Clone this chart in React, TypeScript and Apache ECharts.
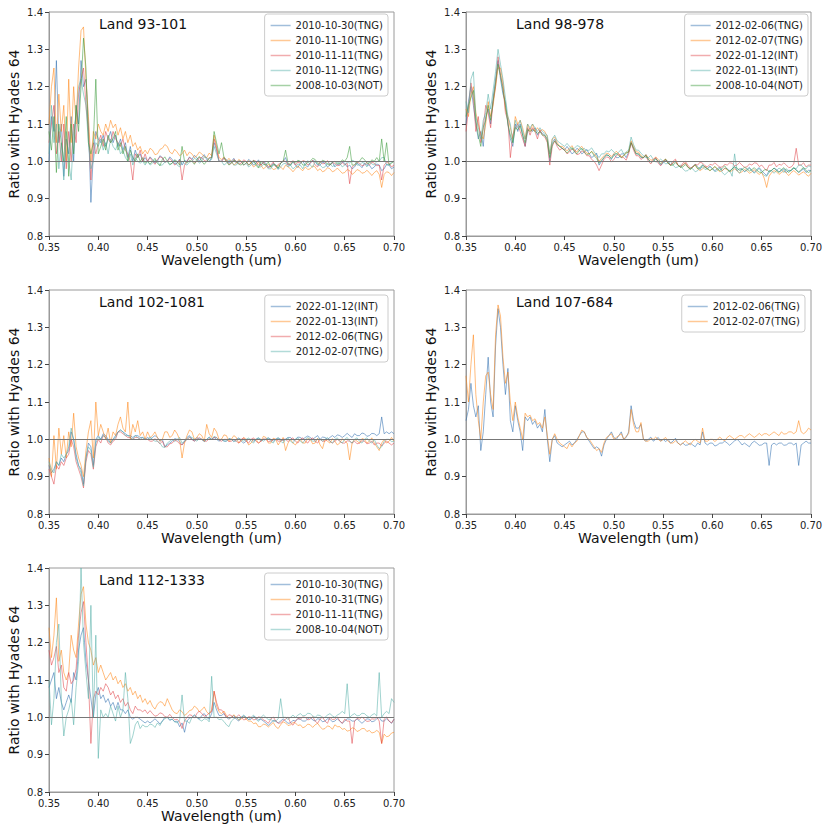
import React, { useEffect, useRef } from "react";
import * as echarts from "echarts";

const FONT = "DejaVu Sans";

// wavelength grid (um)
const WL = [
  0.35, 0.3525, 0.355, 0.3575, 0.36, 0.3625, 0.365, 0.3675, 0.37, 0.3725,
  0.375, 0.3775, 0.38, 0.3825, 0.385, 0.3875, 0.39, 0.3925, 0.395, 0.3975,
  0.40, 0.4025, 0.405, 0.4075, 0.41, 0.4125, 0.415, 0.4175, 0.42, 0.4225,
  0.425, 0.4275, 0.43, 0.4325, 0.435, 0.4375, 0.44, 0.4425, 0.445, 0.4475,
  0.45, 0.4525, 0.455, 0.4575, 0.46, 0.4625, 0.465, 0.4675, 0.47, 0.4725,
  0.475, 0.4775, 0.48, 0.4825, 0.485, 0.4875, 0.49, 0.4925, 0.495, 0.4975,
  0.50, 0.5025, 0.505, 0.5075, 0.51, 0.5125, 0.515, 0.5175, 0.52, 0.5225,
  0.525, 0.5275, 0.53, 0.5325, 0.535, 0.5375, 0.54, 0.5425, 0.545, 0.5475,
  0.55, 0.5525, 0.555, 0.5575, 0.56, 0.5625, 0.565, 0.5675, 0.57, 0.5725,
  0.575, 0.5775, 0.58, 0.5825, 0.585, 0.5875, 0.59, 0.5925, 0.595, 0.5975,
  0.60, 0.6025, 0.605, 0.6075, 0.61, 0.6125, 0.615, 0.6175, 0.62, 0.6225,
  0.625, 0.6275, 0.63, 0.6325, 0.635, 0.6375, 0.64, 0.6425, 0.645, 0.6475,
  0.65, 0.6525, 0.655, 0.6575, 0.66, 0.6625, 0.665, 0.6675, 0.67, 0.6725,
  0.675, 0.6775, 0.68, 0.6825, 0.685, 0.6875, 0.69, 0.6925, 0.695, 0.6975,
  0.70,
];

const X_TICKS = [0.35, 0.4, 0.45, 0.5, 0.55, 0.6, 0.65, 0.7];
const Y_TICKS = [0.8, 0.9, 1.0, 1.1, 1.2, 1.3, 1.4];
const REF_RATIO = 1.0;

const TITLES = ["Land 93-101", "Land 98-978", "Land 102-1081", "Land 107-684", "Land 112-1333"];

// ---------- Land 93-101 ----------
const P1_NAMES = ["2010-10-30(TNG)", "2010-11-10(TNG)", "2010-11-11(TNG)", "2010-11-12(TNG)", "2008-10-03(NOT)"];
const P1_20101030 = [
  1.00, 1.12, 1.08, 1.27, 1.05, 1.10, 0.96, 1.06, 1.02, 1.12,
  1.00, 1.15, 1.10, 1.27, 1.20, 1.22, 1.10, 0.89, 1.02, 1.08,
  1.06, 1.05, 1.07, 1.04, 1.06, 1.08, 1.05, 1.07, 1.04, 1.06,
  1.03, 1.05, 1.01, 1.04, 1.00, 1.03, 1.01, 1.02, 1.00, 1.01,
  1.00, 1.012, 1.005, 0.995, 1.00, 1.015, 1.01, 0.998, 1.00, 1.012,
  1.005, 0.993, 0.995, 1.006, 0.99, 1.002, 1.00, 1.012, 1.005, 1.016,
  1.01, 1.00, 1.01, 1.018, 1.005, 0.998, 1.01, 1.05, 1.03, 1.00,
  1.00, 1.01, 1.005, 0.995, 1.00, 1.008, 0.995, 1.002, 1.00, 0.99,
  0.995, 1.005, 1.00, 0.99, 0.995, 1.004, 0.99, 0.998, 0.995, 0.985,
  0.985, 0.995, 0.99, 0.98, 0.995, 1.00, 1.01, 0.99, 0.99, 0.998,
  0.99, 0.983, 0.995, 1.00, 0.99, 0.985, 0.995, 1.002, 1.00, 0.99,
  0.99, 0.998, 0.995, 0.985, 0.99, 0.998, 0.985, 0.992, 0.99, 0.998,
  0.995, 0.985, 0.99, 0.98, 0.985, 0.995, 0.99, 0.983, 0.995, 0.99,
  0.99, 0.98, 0.985, 0.993, 0.99, 0.975, 0.98, 0.992, 0.99, 0.98,
  0.985,
];
const P1_20101110 = [
  1.10, 1.20, 1.25, 1.05, 1.18, 1.08, 1.15, 1.00, 1.22, 1.05,
  1.20, 1.10, 1.25, 1.35, 1.36, 1.22, 1.12, 1.00, 1.08, 1.06,
  1.10, 1.08, 1.07, 1.10, 1.08, 1.11, 1.09, 1.10, 1.07, 1.09,
  1.06, 1.08, 1.05, 1.07, 1.04, 1.05, 1.03, 1.04, 1.02, 1.03,
  1.02, 1.035, 1.03, 1.018, 1.02, 1.032, 1.035, 1.045, 1.04, 1.025,
  1.02, 1.032, 1.025, 1.015, 1.02, 1.03, 1.015, 1.025, 1.02, 1.01,
  1.015, 1.025, 1.02, 1.012, 1.01, 1.022, 1.015, 1.07, 1.04, 1.01,
  1.005, 1.012, 1.00, 1.008, 1.00, 0.99, 0.995, 1.005, 1.00, 0.99,
  0.995, 1.002, 0.995, 0.985, 0.99, 0.998, 0.99, 0.98, 0.985, 0.992,
  0.985, 0.978, 0.98, 0.99, 0.985, 0.978, 0.99, 0.985, 0.98, 0.972,
  0.98, 0.988, 0.98, 0.975, 0.985, 0.978, 0.98, 0.988, 0.985, 0.975,
  0.98, 0.972, 0.975, 0.983, 0.98, 0.972, 0.975, 0.982, 0.975, 0.968,
  0.97, 0.978, 0.975, 0.965, 0.97, 0.978, 0.975, 0.968, 0.97, 0.976,
  0.97, 0.962, 0.97, 0.975, 0.965, 0.93, 0.965, 0.972, 0.97, 0.962,
  0.97,
];
const P1_20101111 = [
  1.05, 1.10, 1.15, 1.02, 1.08, 1.00, 1.10, 0.98, 1.08, 1.00,
  1.10, 1.05, 1.18, 1.22, 1.25, 1.15, 1.08, 0.95, 1.05, 1.02,
  1.05, 1.07, 1.04, 1.08, 1.06, 1.05, 1.08, 1.06, 1.05, 1.04,
  1.06, 1.03, 1.02, 1.00, 0.95, 1.02, 1.01, 1.03, 1.00, 1.02,
  1.00, 1.01, 1.00, 0.992, 1.005, 1.012, 1.01, 0.998, 1.00, 1.008,
  1.00, 0.99, 0.995, 1.004, 0.95, 0.99, 1.00, 1.01, 1.005, 0.995,
  1.00, 1.01, 1.01, 1.002, 1.00, 1.01, 1.01, 1.06, 1.035, 1.00,
  1.00, 1.008, 1.00, 0.992, 0.995, 1.005, 1.00, 0.993, 0.995, 1.004,
  1.00, 0.99, 0.995, 1.003, 1.00, 0.99, 0.99, 0.998, 0.99, 0.982,
  0.99, 0.998, 0.985, 0.992, 0.995, 1.002, 1.00, 0.99, 0.995, 1.002,
  0.99, 0.998, 0.995, 1.002, 1.00, 0.99, 0.995, 1.003, 0.99, 0.985,
  1.00, 0.993, 0.995, 1.002, 0.99, 0.996, 0.995, 0.988, 0.99, 0.997,
  0.99, 0.995, 0.94, 0.985, 0.99, 0.998, 0.995, 0.988, 0.99, 0.997,
  0.99, 0.998, 0.995, 0.988, 0.99, 0.95, 0.99, 0.997, 0.995, 0.985,
  0.99,
];
const P1_20101112 = [
  1.02, 1.15, 1.05, 1.10, 0.98, 1.05, 0.95, 1.08, 1.00, 0.95,
  1.08, 1.12, 1.20, 1.22, 1.18, 1.15, 1.05, 0.98, 1.00, 1.05,
  1.04, 1.06, 1.03, 1.05, 1.02, 1.06, 1.04, 1.03, 1.05, 1.02,
  1.03, 1.01, 1.00, 1.02, 0.99, 1.01, 1.00, 0.995, 1.00, 0.99,
  1.00, 0.99, 0.995, 1.003, 1.00, 0.99, 0.99, 0.998, 1.00, 0.99,
  0.995, 1.004, 0.99, 0.985, 1.00, 0.993, 0.99, 0.998, 1.00, 1.008,
  1.005, 0.995, 1.00, 1.012, 1.01, 1.002, 1.005, 1.04, 1.02, 1.00,
  1.00, 0.99, 0.995, 1.003, 1.00, 0.99, 0.99, 0.998, 1.00, 0.99,
  0.995, 0.985, 0.99, 0.998, 0.995, 0.985, 0.985, 0.992, 0.99, 0.98,
  0.98, 0.99, 0.99, 0.978, 0.985, 0.993, 0.995, 0.985, 0.99, 0.98,
  0.985, 0.993, 0.99, 0.98, 0.995, 1.002, 0.99, 0.984, 1.00, 0.992,
  0.99, 0.983, 0.985, 0.995, 0.995, 0.986, 0.99, 0.998, 0.995, 0.985,
  0.99, 0.998, 0.995, 1.003, 1.00, 0.99, 0.99, 0.997, 0.995, 0.985,
  1.00, 0.993, 0.99, 1.00, 1.00, 1.01, 1.01, 0.99, 0.99, 0.998,
  1.00,
];
const P1_20081003 = [
  1.08, 1.03, 1.12, 0.97, 1.10, 1.05, 1.00, 1.12, 0.96, 1.10,
  1.02, 1.15, 1.08, 1.20, 1.33, 1.25, 1.05, 1.02, 1.05, 1.22,
  1.02, 1.04, 1.06, 1.03, 1.07, 1.05, 1.06, 1.08, 1.03, 1.05,
  1.02, 1.04, 1.00, 1.03, 1.01, 1.00, 1.02, 1.00, 1.01, 0.995,
  1.00, 0.993, 1.00, 1.008, 0.995, 0.988, 1.005, 1.012, 1.00, 0.992,
  0.995, 1.004, 1.00, 0.99, 1.04, 1.00, 0.995, 1.003, 1.00, 0.992,
  1.005, 1.013, 1.00, 0.992, 1.00, 1.008, 1.01, 1.08, 1.05, 1.02,
  1.05, 1.01, 1.00, 0.99, 0.995, 1.003, 1.00, 0.992, 0.99, 0.998,
  1.00, 0.99, 0.995, 1.003, 0.99, 0.982, 1.00, 0.993, 0.99, 0.998,
  0.985, 0.992, 0.99, 0.982, 0.995, 1.00, 1.03, 0.995, 0.99, 1.00,
  0.995, 1.003, 1.00, 0.99, 0.99, 0.998, 1.00, 1.008, 1.005, 0.995,
  0.995, 1.003, 1.00, 0.992, 0.99, 0.998, 1.00, 0.993, 0.995, 1.004,
  1.00, 1.01, 1.04, 0.99, 0.99, 0.998, 1.00, 1.01, 1.005, 0.995,
  0.995, 1.004, 1.00, 1.01, 1.00, 1.06, 1.00, 1.05, 0.99, 0.995,
  1.00,
];

// ---------- Land 98-978 ----------
const P2_NAMES = ["2012-02-06(TNG)", "2012-02-07(TNG)", "2022-01-12(INT)", "2022-01-13(INT)", "2008-10-04(NOT)"];
const P2_20120206 = [
  1.10, 1.16, 1.20, 1.15, 1.10, 1.06, 1.08, 1.04, 1.12, 1.14,
  1.10, 1.17, 1.22, 1.27, 1.22, 1.18, 1.16, 1.10, 1.06, 1.04,
  1.10, 1.08, 1.10, 1.07, 1.04, 1.08, 1.09, 1.08, 1.09, 1.07,
  1.08, 1.075, 1.07, 1.06, 1.00, 1.05, 1.06, 1.045, 1.04, 1.035,
  1.03, 1.04, 1.03, 1.02, 1.025, 1.035, 1.03, 1.02, 1.025, 1.032,
  1.02, 1.01, 1.015, 1.022, 0.99, 1.00, 1.01, 1.018, 1.015, 1.005,
  1.02, 1.01, 1.01, 1.02, 1.02, 1.01, 1.025, 1.05, 1.035, 1.02,
  1.02, 1.01, 1.01, 1.018, 1.005, 0.998, 1.00, 1.008, 1.00, 0.99,
  0.995, 1.003, 1.00, 0.99, 0.995, 1.00, 0.99, 0.984, 0.99, 0.995,
  0.985, 0.98, 0.985, 0.992, 0.985, 0.978, 0.99, 0.985, 0.98, 0.987,
  0.98, 0.975, 0.98, 0.985, 0.975, 0.982, 0.98, 0.974, 0.98, 0.986,
  0.975, 0.98, 0.98, 0.972, 0.978, 0.984, 0.975, 0.97, 0.978, 0.983,
  0.975, 0.968, 0.962, 0.975, 0.975, 0.982, 0.978, 0.972, 0.975, 0.98,
  0.97, 0.976, 0.975, 0.982, 0.978, 0.97, 0.975, 0.98, 0.97, 0.976,
  0.975,
];
const P2_20120207 = [
  1.14, 1.12, 1.18, 1.20, 1.13, 1.10, 1.07, 1.06, 1.10, 1.16,
  1.12, 1.15, 1.20, 1.25, 1.25, 1.21, 1.14, 1.12, 1.09, 1.06,
  1.12, 1.10, 1.11, 1.09, 1.06, 1.10, 1.08, 1.10, 1.08, 1.09,
  1.08, 1.085, 1.08, 1.065, 1.02, 1.06, 1.065, 1.05, 1.04, 1.04,
  1.035, 1.028, 1.035, 1.042, 1.03, 1.025, 1.035, 1.04, 1.03, 1.022,
  1.02, 1.027, 1.02, 1.012, 1.00, 1.008, 1.015, 1.022, 1.02, 1.013,
  1.02, 1.027, 1.02, 1.012, 1.015, 1.024, 1.025, 1.055, 1.04, 1.025,
  1.025, 1.015, 1.01, 1.018, 1.01, 1.003, 1.005, 1.012, 1.005, 0.998,
  1.00, 1.006, 0.995, 0.99, 0.995, 1.002, 0.99, 0.985, 0.99, 0.996,
  0.985, 0.979, 0.985, 0.99, 0.98, 0.975, 0.98, 0.986, 0.98, 0.975,
  0.98, 0.986, 0.978, 0.972, 0.975, 0.981, 0.978, 0.972, 0.975, 0.98,
  0.975, 0.969, 0.972, 0.978, 0.975, 0.968, 0.972, 0.978, 0.97, 0.965,
  0.97, 0.955, 0.93, 0.96, 0.97, 0.975, 0.972, 0.965, 0.97, 0.975,
  0.968, 0.962, 0.97, 0.975, 0.97, 0.963, 0.968, 0.972, 0.965, 0.96,
  0.968,
];
const P2_20220112 = [
  1.08, 1.14, 1.21, 1.17, 1.08, 1.12, 1.05, 1.09, 1.15, 1.13,
  1.09, 1.16, 1.20, 1.28, 1.23, 1.20, 1.13, 1.11, 1.01, 1.07,
  1.09, 1.10, 1.08, 1.06, 1.04, 1.09, 1.07, 1.09, 1.08, 1.06,
  1.085, 1.07, 1.065, 1.05, 0.99, 1.04, 1.055, 1.04, 1.03, 1.035,
  1.03, 1.02, 1.025, 1.033, 1.03, 1.018, 1.02, 1.028, 1.025, 1.015,
  1.015, 1.005, 1.00, 0.99, 0.975, 0.99, 1.005, 1.012, 1.01, 0.998,
  1.005, 1.015, 1.02, 1.01, 1.01, 1.003, 1.02, 1.05, 1.03, 1.015,
  1.015, 1.005, 1.01, 1.015, 1.00, 0.993, 1.005, 1.01, 0.995, 0.988,
  1.00, 1.005, 0.995, 0.99, 1.00, 1.006, 0.99, 0.985, 0.995, 1.00,
  0.99, 0.982, 0.985, 0.992, 0.99, 0.998, 0.995, 0.988, 0.985, 0.992,
  0.99, 0.996, 0.99, 0.984, 0.985, 0.992, 0.99, 0.996, 0.995, 0.988,
  0.99, 0.997, 0.99, 0.984, 0.985, 0.993, 0.99, 0.996, 0.995, 0.986,
  0.99, 0.982, 0.975, 0.99, 0.99, 0.997, 0.985, 0.992, 0.99, 0.996,
  0.99, 0.983, 0.985, 0.993, 1.035, 0.99, 0.99, 0.996, 0.985, 0.99,
  0.99,
];
const P2_20220113 = [
  1.16, 1.13, 1.22, 1.24, 1.12, 1.09, 1.06, 1.11, 1.13, 1.18,
  1.14, 1.19, 1.24, 1.30, 1.26, 1.22, 1.17, 1.12, 1.10, 1.05,
  1.11, 1.09, 1.11, 1.08, 1.06, 1.10, 1.09, 1.10, 1.09, 1.08,
  1.09, 1.08, 1.075, 1.07, 1.02, 1.06, 1.07, 1.055, 1.05, 1.045,
  1.04, 1.048, 1.04, 1.032, 1.035, 1.042, 1.04, 1.03, 1.035, 1.028,
  1.03, 1.036, 1.025, 1.018, 1.01, 1.02, 1.02, 1.028, 1.025, 1.032,
  1.025, 1.018, 1.025, 1.032, 1.02, 1.025, 1.03, 1.065, 1.045, 1.03,
  1.03, 1.022, 1.015, 1.01, 1.01, 1.016, 1.005, 0.998, 1.00, 1.006,
  1.00, 0.993, 0.995, 1.00, 0.99, 0.983, 0.985, 0.99, 0.98, 0.974,
  0.975, 0.982, 0.98, 0.972, 0.975, 0.982, 0.985, 0.978, 0.98, 0.986,
  0.98, 0.972, 0.975, 0.982, 0.97, 0.964, 0.97, 0.976, 0.96, 1.02,
  0.975, 0.968, 0.98, 0.973, 0.975, 0.982, 0.975, 0.968, 0.975, 0.981,
  0.97, 0.962, 0.96, 0.97, 0.975, 0.968, 0.975, 0.982, 0.978, 0.97,
  0.98, 0.974, 0.975, 0.983, 0.98, 0.99, 0.99, 0.982, 0.98, 0.988,
  0.985,
];
const P2_20081004 = [
  1.12, 1.15, 1.17, 1.19, 1.11, 1.07, 1.04, 1.09, 1.11, 1.15,
  1.11, 1.16, 1.21, 1.26, 1.23, 1.19, 1.15, 1.10, 1.07, 1.05,
  1.09, 1.085, 1.095, 1.07, 1.05, 1.085, 1.08, 1.085, 1.08, 1.075,
  1.08, 1.07, 1.07, 1.055, 1.01, 1.045, 1.055, 1.045, 1.04, 1.035,
  1.03, 1.022, 1.03, 1.037, 1.025, 1.02, 1.03, 1.035, 1.025, 1.018,
  1.02, 1.026, 1.015, 1.008, 0.995, 1.003, 1.01, 1.017, 1.015, 1.008,
  1.015, 1.022, 1.015, 1.01, 1.015, 1.022, 1.025, 1.05, 1.035, 1.02,
  1.02, 1.012, 1.01, 1.016, 1.005, 0.998, 1.00, 1.007, 1.00, 0.993,
  1.00, 1.006, 0.995, 0.989, 0.99, 0.996, 0.99, 0.984, 0.985, 0.991,
  0.985, 0.978, 0.985, 0.991, 0.98, 0.984, 0.99, 0.984, 0.98, 0.975,
  0.98, 0.986, 0.98, 0.975, 0.982, 0.988, 0.978, 0.973, 0.98, 0.985,
  0.982, 0.976, 0.978, 0.984, 0.98, 0.974, 0.978, 0.983, 0.976, 0.971,
  0.97, 0.977, 0.978, 0.972, 0.976, 0.982, 0.975, 0.97, 0.978, 0.983,
  0.976, 0.97, 0.978, 0.983, 0.976, 0.971, 0.978, 0.983, 0.975, 0.97,
  0.975,
];

// ---------- Land 102-1081 ----------
const P3_NAMES = ["2022-01-12(INT)", "2022-01-13(INT)", "2012-02-06(TNG)", "2012-02-07(TNG)"];
const P3_20220112 = [
  0.93, 0.91, 0.92, 0.94, 0.93, 0.95, 0.94, 0.96, 0.97, 1.02,
  1.00, 0.96, 0.93, 0.92, 0.88, 0.95, 0.99, 0.98, 0.93, 1.00,
  1.01, 1.00, 1.015, 1.01, 1.00, 0.99, 1.00, 1.01, 1.02, 1.025,
  1.02, 1.015, 1.01, 1.01, 1.005, 1.01, 1.01, 1.005, 1.005, 1.00,
  1.005, 1.00, 1.005, 1.01, 1.005, 0.995, 1.00, 0.98, 0.985, 0.99,
  0.995, 1.002, 1.00, 0.993, 0.985, 0.995, 1.005, 1.01, 1.00, 0.995,
  1.005, 1.00, 1.00, 0.995, 1.00, 1.006, 1.00, 1.005, 1.00, 0.995,
  1.00, 0.995, 0.995, 1.002, 1.00, 0.994, 1.00, 1.004, 0.995, 0.99,
  0.995, 1.00, 1.00, 0.995, 1.00, 1.004, 0.995, 1.00, 1.00, 1.004,
  1.00, 0.995, 1.00, 1.004, 1.00, 0.996, 1.00, 1.005, 1.005, 0.998,
  1.00, 1.006, 1.005, 1.00, 1.005, 1.009, 1.005, 1.00, 1.005, 1.01,
  1.00, 1.006, 1.005, 1.00, 1.005, 1.01, 1.005, 1.012, 1.01, 1.005,
  1.01, 1.016, 1.01, 1.005, 1.015, 1.01, 1.01, 1.017, 1.015, 1.008,
  1.01, 1.016, 1.015, 1.01, 1.015, 1.06, 1.015, 1.02, 1.015, 1.02,
  1.015,
];
const P3_20220113 = [
  0.95, 0.90, 1.01, 0.92, 1.03, 0.96, 1.01, 0.95, 1.02, 0.98,
  1.07, 0.98, 0.95, 0.93, 0.90, 0.97, 1.02, 1.05, 0.95, 1.10,
  1.01, 1.04, 1.02, 1.00, 1.03, 0.99, 1.02, 1.01, 1.04, 1.06,
  1.03, 1.02, 1.10, 1.00, 1.04, 1.02, 1.05, 1.01, 1.02, 1.00,
  1.02, 1.005, 1.01, 1.02, 1.005, 0.995, 1.00, 1.02, 1.02, 1.005,
  1.01, 1.025, 1.015, 1.00, 0.95, 0.99, 1.01, 1.025, 1.02, 1.00,
  1.005, 1.015, 1.01, 0.995, 1.04, 1.015, 1.005, 1.03, 1.02, 1.00,
  1.00, 1.012, 1.01, 0.995, 1.00, 1.01, 1.005, 0.99, 0.995, 1.005,
  1.00, 0.985, 0.99, 1.00, 1.00, 0.99, 0.995, 1.008, 1.005, 0.99,
  0.99, 1.003, 1.00, 0.985, 0.995, 1.005, 0.97, 0.99, 1.00, 0.99,
  0.985, 0.995, 1.00, 0.99, 0.99, 1.002, 1.00, 0.988, 0.99, 1.003,
  0.985, 0.975, 1.00, 0.995, 0.99, 1.002, 0.995, 0.985, 0.99, 1.002,
  0.995, 0.99, 0.945, 0.99, 1.00, 0.995, 0.99, 1.002, 1.00, 0.99,
  0.995, 1.004, 0.99, 0.98, 0.97, 0.99, 1.00, 0.99, 0.995, 1.005,
  0.995,
];
const P3_20120206 = [
  0.92, 0.90, 0.88, 0.93, 0.92, 0.94, 0.93, 0.95, 0.96, 1.00,
  0.98, 0.94, 0.92, 0.90, 0.87, 0.94, 0.97, 0.96, 0.92, 0.98,
  1.00, 0.99, 1.01, 1.005, 0.99, 0.985, 0.995, 1.00, 1.02, 1.02,
  1.015, 1.01, 1.005, 1.005, 1.00, 1.005, 1.005, 1.00, 1.00, 1.00,
  1.00, 0.995, 0.995, 1.002, 0.995, 0.988, 0.995, 0.98, 0.98, 0.988,
  0.99, 0.998, 0.995, 0.988, 0.985, 0.993, 1.00, 1.005, 1.00, 0.995,
  1.00, 1.005, 1.00, 0.995, 0.995, 1.002, 1.00, 1.005, 1.005, 0.998,
  0.995, 1.00, 1.00, 0.994, 0.995, 1.00, 0.995, 0.99, 1.00, 1.004,
  0.995, 0.99, 1.00, 1.004, 0.995, 0.99, 0.995, 1.001, 1.00, 0.994,
  0.995, 1.00, 1.00, 0.995, 0.995, 1.001, 1.00, 0.994, 1.00, 1.004,
  0.995, 0.99, 1.00, 1.004, 0.995, 0.99, 1.00, 1.004, 0.995, 0.99,
  1.00, 0.995, 0.995, 1.00, 0.995, 0.99, 0.995, 1.00, 0.995, 0.99,
  0.99, 0.996, 0.995, 0.99, 0.995, 0.988, 0.99, 0.996, 0.995, 0.988,
  0.99, 0.995, 0.985, 0.99, 0.99, 0.982, 0.99, 0.995, 0.99, 0.985,
  0.99,
];
const P3_20120207 = [
  0.94, 0.92, 0.91, 0.94, 0.93, 0.96, 0.95, 0.96, 0.98, 1.03,
  1.00, 0.95, 0.93, 0.91, 0.875, 0.95, 0.98, 0.97, 0.925, 0.99,
  1.005, 1.00, 1.01, 1.005, 0.995, 0.99, 1.00, 1.005, 1.02, 1.025,
  1.02, 1.01, 1.01, 1.005, 1.00, 1.01, 1.005, 1.00, 1.005, 1.00,
  1.00, 1.006, 1.00, 0.995, 0.995, 0.99, 0.98, 0.978, 0.99, 0.995,
  1.00, 0.994, 1.00, 1.005, 0.99, 0.995, 1.00, 1.006, 1.005, 1.00,
  0.995, 1.002, 1.00, 0.994, 1.00, 1.005, 1.00, 1.008, 1.005, 0.998,
  1.00, 0.996, 0.995, 1.002, 1.00, 0.995, 0.995, 1.002, 1.00, 0.995,
  1.00, 1.004, 0.995, 0.99, 1.00, 1.004, 1.00, 0.995, 1.00, 1.004,
  0.995, 0.99, 1.00, 1.004, 0.995, 0.99, 1.00, 1.004, 0.995, 0.99,
  1.00, 1.004, 0.995, 0.99, 1.00, 1.005, 1.00, 0.995, 0.995, 1.001,
  1.00, 0.995, 1.00, 1.005, 0.995, 0.99, 1.00, 1.004, 0.995, 0.99,
  1.00, 1.005, 0.995, 0.99, 1.00, 1.004, 0.995, 0.99, 1.00, 1.004,
  0.995, 0.99, 1.00, 0.985, 0.975, 0.98, 0.995, 1.00, 1.00, 0.994,
  0.995,
];

// ---------- Land 107-684 ----------
const P4_NAMES = ["2012-02-06(TNG)", "2012-02-07(TNG)"];
const P4_20120206 = [
  1.05, 1.08, 1.15, 1.09, 1.06, 1.09, 0.97, 1.02, 1.12, 1.22,
  1.10, 1.06, 1.25, 1.35, 1.30, 1.20, 1.12, 1.19, 1.05, 1.02,
  1.09, 1.05, 1.02, 0.97, 1.06, 1.05, 1.06, 1.04, 1.05, 1.03,
  1.04, 1.02, 1.08, 1.00, 0.94, 1.00, 1.01, 0.99, 0.985, 0.98,
  0.985, 0.99, 0.995, 0.985, 0.99, 1.00, 1.01, 1.02, 1.02, 1.005,
  0.995, 0.985, 0.975, 0.98, 0.975, 0.955, 0.985, 1.00, 1.01, 1.02,
  1.005, 1.00, 1.01, 1.02, 1.00, 1.005, 1.02, 1.09, 1.05, 1.03,
  1.03, 1.04, 1.00, 0.995, 1.00, 1.006, 0.995, 1.00, 1.005, 0.995,
  1.00, 0.994, 1.00, 0.99, 0.995, 1.003, 0.99, 0.985, 0.99, 0.984,
  0.985, 0.99, 0.985, 0.98, 0.99, 0.985, 1.02, 0.99, 0.985, 0.99,
  0.99, 0.982, 0.985, 0.99, 0.99, 0.995, 0.99, 0.984, 0.99, 0.996,
  1.00, 0.994, 0.985, 0.99, 0.985, 0.98, 0.99, 0.995, 0.99, 0.984,
  0.985, 0.99, 0.99, 0.93, 0.985, 0.99, 0.985, 0.99, 0.99, 0.984,
  0.985, 0.99, 0.99, 0.985, 0.99, 0.93, 0.985, 0.99, 0.995, 0.99,
  0.99,
];
const P4_20120207 = [
  1.17, 1.10, 1.20, 1.28, 1.12, 1.05, 1.00, 1.10, 1.17, 1.18,
  1.12, 1.08, 1.28, 1.36, 1.33, 1.22, 1.15, 1.18, 1.10, 1.05,
  1.10, 1.06, 1.03, 1.00, 1.07, 1.06, 1.065, 1.05, 1.055, 1.04,
  1.045, 1.03, 1.06, 1.01, 0.96, 1.00, 1.015, 1.00, 0.99, 0.985,
  0.98, 0.975, 0.99, 0.98, 0.99, 0.995, 1.01, 1.025, 1.02, 1.005,
  1.00, 0.99, 0.98, 0.97, 0.975, 0.965, 0.99, 1.005, 1.01, 1.015,
  1.00, 1.005, 1.01, 1.015, 1.00, 1.008, 1.015, 1.08, 1.04, 1.02,
  1.02, 1.045, 1.00, 0.995, 0.995, 1.002, 1.00, 1.006, 1.00, 0.995,
  1.00, 1.005, 0.995, 0.99, 0.99, 0.996, 0.99, 0.985, 0.99, 0.996,
  0.99, 0.985, 0.995, 1.00, 0.995, 0.99, 1.03, 0.995, 0.995, 1.00,
  1.00, 0.994, 1.00, 1.006, 1.00, 0.996, 1.005, 1.01, 1.005, 1.00,
  1.005, 1.01, 1.01, 1.004, 1.01, 1.015, 1.01, 1.005, 1.01, 1.016,
  1.01, 1.015, 1.015, 1.01, 1.015, 1.02, 1.015, 1.01, 1.02, 1.014,
  1.015, 1.02, 1.02, 1.015, 1.02, 1.05, 1.02, 1.015, 1.02, 1.03,
  1.025,
];

// ---------- Land 112-1333 ----------
const P5_NAMES = ["2010-10-30(TNG)", "2010-10-31(TNG)", "2010-11-11(TNG)", "2008-10-04(NOT)"];
const P5_20101030 = [
  1.08, 1.10, 1.12, 1.05, 1.08, 1.04, 1.02, 1.04, 1.06, 1.04,
  1.12, 1.10, 1.18, 1.22, 1.24, 1.15, 1.10, 1.05, 1.00, 1.06,
  1.08, 1.05, 1.06, 1.04, 1.05, 1.03, 1.04, 1.02, 1.04, 1.02,
  1.02, 1.01, 1.02, 1.00, 0.995, 1.00, 1.00, 0.995, 0.99, 0.985,
  0.99, 0.985, 0.99, 0.996, 0.99, 0.982, 0.99, 1.00, 1.00, 0.992,
  0.995, 0.988, 0.99, 0.975, 0.985, 0.96, 0.99, 0.998, 1.00, 1.006,
  1.00, 0.995, 1.005, 1.01, 1.00, 0.995, 1.01, 1.04, 1.02, 1.005,
  1.005, 1.01, 1.00, 0.995, 1.00, 1.005, 0.995, 0.99, 1.00, 1.004,
  1.00, 0.994, 0.995, 1.002, 1.00, 0.993, 0.995, 0.99, 0.985, 0.978,
  0.985, 0.992, 0.99, 0.985, 0.99, 0.996, 0.99, 0.984, 0.985, 0.992,
  0.99, 0.996, 0.995, 0.99, 0.99, 0.996, 1.00, 0.993, 0.99, 0.996,
  0.995, 0.988, 0.99, 0.996, 0.995, 0.988, 0.99, 0.996, 0.99, 0.984,
  0.99, 0.996, 0.995, 0.99, 0.99, 0.996, 0.99, 0.984, 0.99, 0.996,
  0.995, 0.988, 0.99, 0.996, 1.00, 0.99, 0.99, 0.996, 0.99, 0.984,
  0.995,
];
const P5_20101031 = [
  1.24, 1.16, 1.22, 1.32, 1.15, 1.18, 1.12, 1.10, 1.12, 1.22,
  1.18, 1.16, 1.25, 1.33, 1.35, 1.25, 1.20, 1.18, 1.14, 1.16,
  1.12, 1.14, 1.12, 1.10, 1.11, 1.12, 1.10, 1.11, 1.09, 1.10,
  1.08, 1.09, 1.07, 1.08, 1.06, 1.07, 1.05, 1.06, 1.04, 1.05,
  1.035, 1.045, 1.03, 1.022, 1.035, 1.042, 1.04, 1.03, 1.05, 1.035,
  1.02, 1.012, 1.01, 1.02, 1.015, 1.005, 1.01, 1.018, 1.02, 1.03,
  1.025, 1.015, 1.02, 1.028, 1.015, 1.008, 1.02, 1.07, 1.03, 1.015,
  1.01, 1.017, 1.005, 0.998, 1.00, 1.007, 1.00, 0.993, 0.995, 1.002,
  0.995, 0.99, 0.99, 0.983, 0.985, 0.975, 0.975, 0.982, 0.98, 0.974,
  0.98, 0.986, 0.975, 0.97, 0.98, 0.988, 0.985, 0.978, 0.98, 0.986,
  0.985, 0.978, 0.98, 0.972, 0.975, 0.982, 0.98, 0.973, 0.98, 0.984,
  0.975, 0.968, 0.97, 0.977, 0.975, 0.968, 0.98, 0.975, 0.975, 0.968,
  0.97, 0.963, 0.965, 0.972, 0.97, 0.962, 0.965, 0.97, 0.97, 0.962,
  0.965, 0.958, 0.96, 0.965, 0.96, 0.93, 0.955, 0.948, 0.95, 0.958,
  0.96,
];
const P5_20101111 = [
  1.18, 1.14, 1.16, 1.19, 1.12, 1.14, 1.08, 1.07, 1.12, 1.09,
  1.10, 1.13, 1.22, 1.28, 1.31, 1.20, 1.10, 0.93, 1.05, 1.07,
  1.06, 1.08, 1.07, 1.09, 1.08, 1.06, 1.07, 1.05, 1.06, 1.04,
  1.05, 1.03, 1.04, 1.02, 1.01, 1.03, 1.02, 1.02, 1.015, 1.02,
  1.01, 1.018, 1.01, 1.003, 1.005, 1.012, 1.01, 1.002, 1.00, 1.008,
  1.00, 0.993, 0.995, 0.988, 0.97, 0.99, 1.00, 1.007, 1.005, 0.998,
  1.01, 1.017, 1.01, 1.003, 1.005, 1.012, 1.015, 1.07, 1.04, 1.02,
  1.02, 1.012, 1.00, 1.007, 1.005, 0.998, 1.00, 1.007, 1.00, 0.993,
  0.995, 1.002, 1.00, 0.993, 0.995, 1.001, 1.00, 0.993, 0.99, 0.984,
  0.995, 1.001, 0.99, 0.984, 0.985, 0.991, 0.995, 1.001, 0.985, 0.979,
  0.99, 0.997, 0.995, 1.001, 1.00, 0.993, 0.995, 1.002, 0.99, 0.984,
  0.995, 1.001, 0.99, 0.984, 1.00, 0.994, 0.995, 1.001, 0.99, 0.984,
  0.995, 0.99, 0.99, 0.93, 0.99, 0.997, 0.995, 1.001, 0.995, 0.989,
  0.99, 0.996, 0.995, 1.001, 0.99, 0.93, 0.995, 1.001, 0.99, 0.985,
  0.995,
];
const P5_20081004 = [
  1.10, 0.98, 1.05, 1.20, 1.25, 1.05, 0.95, 1.00, 1.02, 1.05,
  0.98, 1.08, 1.15, 1.40, 1.20, 1.12, 1.05, 1.30, 1.00, 1.22,
  0.89, 1.02, 1.00, 1.01, 1.00, 1.03, 1.01, 0.99, 1.03, 1.00,
  1.02, 1.12, 1.05, 0.93, 0.95, 0.98, 0.99, 0.97, 0.98, 0.975,
  0.975, 0.982, 0.98, 0.973, 0.985, 0.978, 0.99, 0.996, 1.00, 0.994,
  0.995, 0.988, 0.985, 0.992, 1.06, 0.99, 0.99, 0.984, 1.00, 1.006,
  1.00, 0.994, 0.99, 0.996, 0.995, 0.988, 1.11, 1.00, 1.00, 0.994,
  0.995, 0.989, 0.98, 0.975, 0.99, 0.996, 1.00, 0.994, 1.00, 1.006,
  1.00, 0.994, 1.00, 1.006, 0.995, 0.989, 1.00, 1.006, 1.00, 0.994,
  0.995, 0.989, 0.99, 0.996, 1.05, 1.00, 1.00, 0.994, 1.00, 1.006,
  1.00, 1.006, 1.01, 1.004, 1.005, 1.011, 1.01, 1.004, 1.00, 1.006,
  1.005, 0.999, 1.00, 1.006, 1.01, 1.004, 1.00, 1.006, 1.01, 1.016,
  1.01, 1.09, 1.00, 1.006, 1.01, 1.004, 1.005, 1.011, 1.01, 1.004,
  1.00, 1.006, 1.01, 1.004, 1.12, 1.00, 1.01, 1.016, 1.01, 1.05,
  1.04,
];

const C_BLUE = "#2f6fb0";
const C_ORANGE = "#ff8515";
const C_RED = "#e0474c";
const C_TEAL = "#55b0a8";
const C_GREEN = "#3a9a3a";

const PANELS = [
  { title: TITLES[0], left: 49, top: 12, legendRight: 442, legendTop: 14,
    names: P1_NAMES, values: [P1_20101030, P1_20101110, P1_20101111, P1_20101112, P1_20081003],
    colors: [C_BLUE, C_ORANGE, C_RED, C_TEAL, C_GREEN] },
  { title: TITLES[1], left: 466, top: 12, legendRight: 22, legendTop: 14,
    names: P2_NAMES, values: [P2_20120206, P2_20120207, P2_20220112, P2_20220113, P2_20081004],
    colors: [C_BLUE, C_ORANGE, C_RED, C_TEAL, C_GREEN] },
  { title: TITLES[2], left: 49, top: 290, legendRight: 442, legendTop: 295,
    names: P3_NAMES, values: [P3_20220112, P3_20220113, P3_20120206, P3_20120207],
    colors: [C_BLUE, C_ORANGE, C_RED, C_TEAL] },
  { title: TITLES[3], left: 466, top: 290, legendRight: 25, legendTop: 295,
    names: P4_NAMES, values: [P4_20120206, P4_20120207],
    colors: [C_BLUE, C_ORANGE] },
  { title: TITLES[4], left: 49, top: 568, legendRight: 442, legendTop: 573,
    names: P5_NAMES, values: [P5_20101030, P5_20101031, P5_20101111, P5_20081004],
    colors: [C_BLUE, C_ORANGE, C_RED, C_TEAL] },
];

const GRID_W = 345;
const GRID_H = 224;

function buildOption() {
  const grid = PANELS.map((p) => ({
    left: p.left, top: p.top, width: GRID_W, height: GRID_H,
    show: true, borderColor: "#9a9a9a", borderWidth: 1, backgroundColor: "transparent",
  }));
  const xAxis = PANELS.map((p, i) => ({
    gridIndex: i, type: "value",
    min: X_TICKS[0], max: X_TICKS[X_TICKS.length - 1], interval: 0.05,
    name: "Wavelength (um)", nameLocation: "middle", nameGap: 13,
    nameTextStyle: { fontSize: 14, color: "#111", fontFamily: FONT },
    axisLine: { show: true, lineStyle: { color: "#9a9a9a", width: 1 } },
    axisTick: { show: true, length: 4, lineStyle: { color: "#444" } },
    axisLabel: { fontSize: 10, color: "#222", margin: 6, fontFamily: FONT, showMinLabel: true, showMaxLabel: true,
      formatter: (v: number) => v.toFixed(2) },
    splitLine: { show: false },
  }));
  const yAxis = PANELS.map((p, i) => ({
    gridIndex: i, type: "value",
    min: Y_TICKS[0], max: Y_TICKS[Y_TICKS.length - 1], interval: 0.1,
    name: "Ratio with Hyades 64", nameLocation: "middle", nameGap: 28,
    nameTextStyle: { fontSize: 14, color: "#111", fontFamily: FONT },
    axisLine: { show: true, lineStyle: { color: "#9a9a9a", width: 1 } },
    axisTick: { show: true, length: 4, lineStyle: { color: "#444" } },
    axisLabel: { fontSize: 10, color: "#222", margin: 6, fontFamily: FONT, showMinLabel: true, showMaxLabel: true,
      formatter: (v: number) => v.toFixed(1) },
    splitLine: { show: false },
  }));
  const legend = PANELS.map((p) => ({
    type: "plain", orient: "vertical", right: p.legendRight, top: p.legendTop,
    icon: "rect", itemWidth: 20, itemHeight: 1.5, itemGap: 4, padding: [6, 5, 5, 6],
    borderColor: "#cccccc", borderWidth: 1, borderRadius: 3,
    backgroundColor: "rgba(255,255,255,0.8)", selectedMode: false,
    textStyle: { fontSize: 10, color: "#222", fontFamily: FONT, lineHeight: 11 },
    data: p.names.map((n, k) => ({
      name: n,
      icon: "rect",
      itemStyle: { color: p.colors[k], opacity: 0.45, borderWidth: 0 },
    })),
  }));
  const graphic = PANELS.map((p) => ({
    type: "text", left: p.left + 50, top: p.top + 5, silent: true,
    style: { text: p.title, fontSize: 14, fontFamily: FONT, fill: "#111" },
  }));
  const series: any[] = [];
  PANELS.forEach((p, i) => {
    p.values.forEach((vals, k) => {
      series.push({
        type: "line", name: p.names[k], xAxisIndex: i, yAxisIndex: i,
        data: WL.map((w, j) => [w, vals[j]]),
        symbol: "none", showSymbol: false, silent: true, clip: true,
        lineStyle: { width: 0.9, color: p.colors[k], opacity: 0.62 },
        itemStyle: { color: p.colors[k] },
        emphasis: { disabled: true },
      });
    });
    series.push({
      type: "line", name: "ref-" + i, xAxisIndex: i, yAxisIndex: i, data: [],
      symbol: "none", silent: true,
      markLine: {
        silent: true, symbol: "none", label: { show: false },
        lineStyle: { color: "#777777", width: 1, type: "solid", opacity: 1 },
        data: [{ yAxis: REF_RATIO }],
      },
    });
  });
  return { animation: false, textStyle: { fontFamily: FONT }, grid, xAxis, yAxis, legend, graphic, series };
}

export default function App() {
  const ref = useRef<HTMLDivElement>(null);
  useEffect(() => {
    if (!ref.current) return;
    const chart = echarts.init(ref.current, undefined, { renderer: "svg" });
    chart.setOption(buildOption() as any);
    return () => chart.dispose();
  }, []);
  return (
    <div ref={ref} style={{ position: "absolute", left: 0, top: 0, width: 830, height: 835, background: "#fff" }} />
  );
}
